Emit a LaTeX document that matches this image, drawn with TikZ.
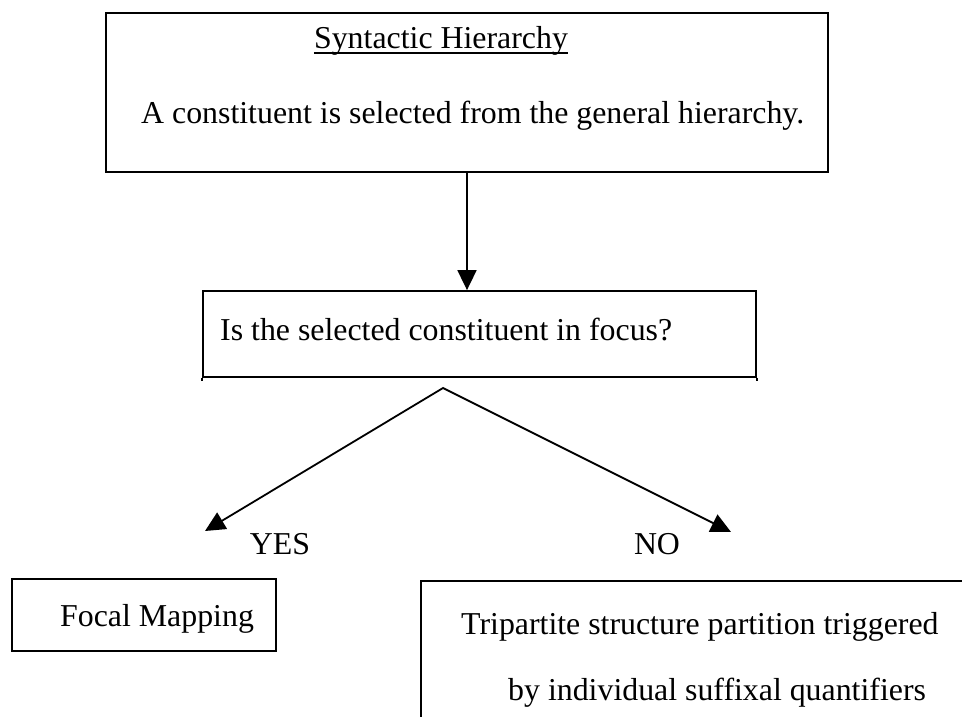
\documentclass[tikz,border=0pt]{standalone}
\usepackage{fontspec}
\setmainfont{Liberation Serif}
\usetikzlibrary{arrows.meta}
\begin{document}
\begin{tikzpicture}[x=1pt,y=-1pt,
  box/.style={draw, line width=1.8pt, inner sep=0pt},
  txt/.style={inner sep=0pt, font=\fontsize{31.85}{38}\selectfont},
  conn/.style={line width=1.8pt, -{Triangle[length=20pt,width=19pt]}}]
\useasboundingbox (0,0) rectangle (962,717);
\clip (0,0) rectangle (962,717);
% top box
\node[box, minimum width=722pt, minimum height=159pt] (top) at (467,92.5) {};
\node[txt, anchor=base] (title) at (441,49) {Syntactic Hierarchy};
\draw[line width=1.4pt] ([yshift=-4pt]title.base west) -- ([yshift=-4pt]title.base east);
\node[txt, anchor=base west] (sel) at (141,124) {A constituent is selected from the general hierarchy.};
% middle box
\node[box, minimum width=553pt, minimum height=86pt] (mid) at (479.5,334) {};
\draw[line width=1.8pt] (mid.south west) -- ++(0,3);
\draw[line width=1.8pt] (mid.south east) -- ++(0,3);
\node[txt, anchor=base west] (q) at (220,340) {Is the selected constituent in focus?};
\draw[conn] (top.south) -- (top.south |- mid.north);
% branches
\coordinate (apex) at (443,388);
\coordinate (yesend) at (205,531);
\coordinate (noend) at (731,532);
\draw[line width=1.8pt, miter limit=20, {Triangle[length=20pt,width=19pt]}-{Triangle[length=20pt,width=19pt]}] (yesend) -- (apex) -- (noend);
\node[txt, anchor=base] (yes) at (280,554) {YES};
\node[txt, anchor=base] (no) at (657,554) {NO};
% bottom boxes
\node[box, minimum width=264pt, minimum height=72pt] (focal) at (144,615) {};
\node[txt, anchor=base west] (focaltext) at (60,626) {Focal Mapping};
\node[box, anchor=north west, minimum width=600pt, minimum height=200pt] (trip) at (420,580) {};
\node[txt, anchor=base west] (t1) at (461,634) {Tripartite structure partition triggered};
\node[txt, anchor=base west] (t2) at (508,700) {by individual suffixal quantifiers};
\end{tikzpicture}
\end{document}
